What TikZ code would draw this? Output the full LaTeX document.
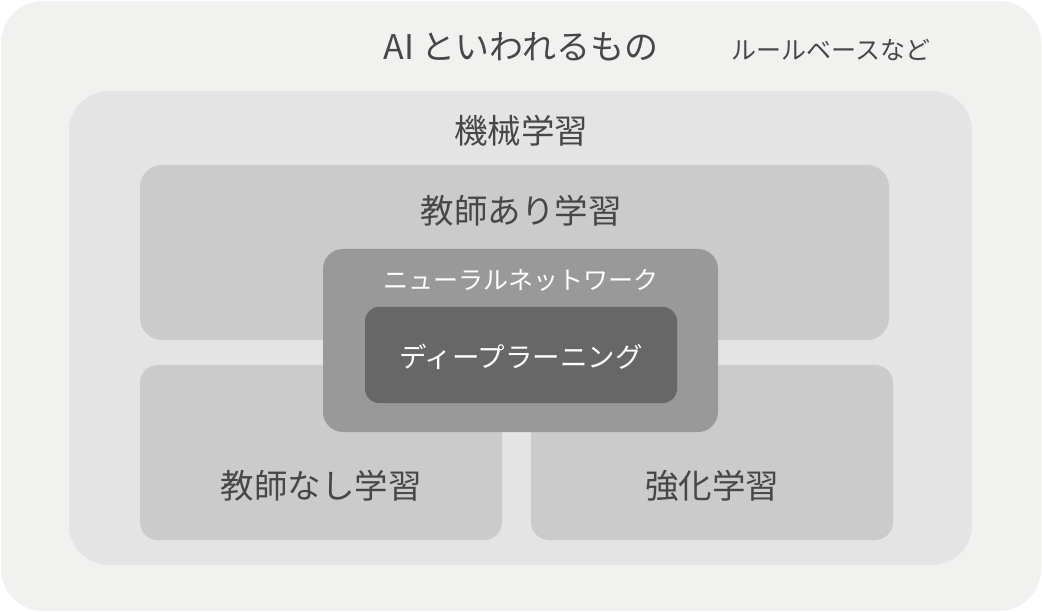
\documentclass[tikz,border=0pt]{standalone}
\usepackage{fontspec}
\setmainfont{Noto Sans CJK JP}
\definecolor{cOuter}{HTML}{F1F1F0}
\definecolor{cML}{HTML}{E4E4E4}
\definecolor{cSub}{HTML}{CBCBCB}
\definecolor{cNN}{HTML}{999999}
\definecolor{cDL}{HTML}{666766}
\definecolor{cText}{HTML}{474747}
\tikzset{
  box/.style={draw=none, inner sep=0pt, outer sep=0pt},
  lbl/.style={inner sep=0pt, text=cText, anchor=center},
  wlbl/.style={inner sep=0pt, text=white, anchor=center},
}
\newcommand{\fs}[1]{\fontsize{#1}{#1}\selectfont}
\begin{document}
\begin{tikzpicture}[x=1pt,y=-1pt]
\useasboundingbox (0,0) rectangle (1042,612);
% boxes
\path[box, fill=cOuter, rounded corners=42pt] (1,1) rectangle (1041,611);
\path[box, fill=cML, rounded corners=40pt] (69,91) rectangle (972,565);
\path[box, fill=cSub, rounded corners=22pt] (140,165) rectangle (889,340);
\path[box, fill=cSub, rounded corners=18pt] (140,365) rectangle (502,540);
\path[box, fill=cSub, rounded corners=18pt] (531,365) rectangle (893,540);
\path[box, fill=cNN, rounded corners=20pt] (323,249) rectangle (718,432);
\path[box, fill=cDL, rounded corners=14pt] (365,307) rectangle (677,403);
% named anchor nodes for the boxes
\node[box, minimum width=1040pt, minimum height=610pt] (ai) at (521,306) {};
\node[box, minimum width=903pt, minimum height=474pt] (ml) at (520.5,328) {};
\node[box, minimum width=749pt, minimum height=175pt] (sup) at (514.5,252.5) {};
\node[box, minimum width=362pt, minimum height=175pt] (unsup) at (321,452.5) {};
\node[box, minimum width=362pt, minimum height=175pt] (rl) at (712,452.5) {};
\node[box, minimum width=395pt, minimum height=183pt] (nn) at (520.5,340.5) {};
\node[box, minimum width=312pt, minimum height=96pt] (dl) at (521,355) {};
% labels
\node[lbl] (tai) at (521,47) {\fs{34}AI といわれるもの};
\node[lbl] (trb) at (831,50) {\fs{25}ルールベースなど};
\node[lbl] (tml) at (521,131) {\fs{33.5}機械学習};
\node[lbl] (tsup) at (521,211) {\fs{33.5}教師あり学習};
\node[wlbl] (tnn) at (521,280) {\fs{25}ニューラルネットワーク};
\node[wlbl] (tdl) at (521,357) {\fs{27.5}ディープラーニング};
\node[lbl] (tunsup) at (321,486) {\fs{33.5}教師なし学習};
\node[lbl] (trl) at (712,486) {\fs{33.5}強化学習};
\end{tikzpicture}
\end{document}
